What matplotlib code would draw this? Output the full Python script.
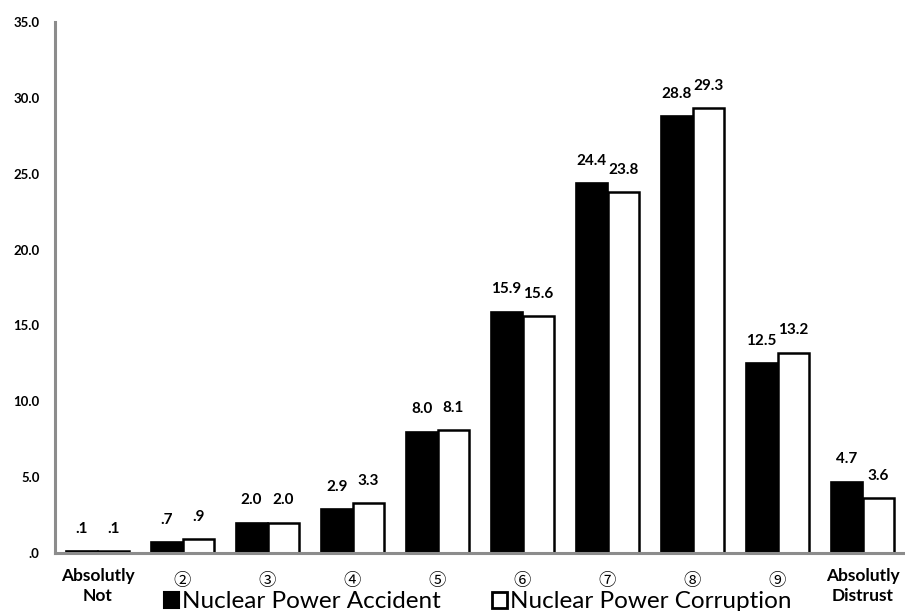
import matplotlib
matplotlib.use("Agg")
import matplotlib.pyplot as plt
import matplotlib.transforms as mtransforms
from matplotlib.patches import Rectangle
import numpy as np

categories = ["Absolutly\nNot", "②", "③", "④", "⑤", "⑥", "⑦", "⑧", "⑨", "Absolutly\nDistrust"]
accident = [0.1, 0.7, 2.0, 2.9, 8.0, 15.9, 24.4, 28.8, 12.5, 4.7]
corruption = [0.1, 0.9, 2.0, 3.3, 8.1, 15.6, 23.8, 29.3, 13.2, 3.6]
series_names = ["Nuclear Power Accident", "Nuclear Power Corruption"]
y_ticks = [0, 5, 10, 15, 20, 25, 30, 35]


def fmt(v):
    # Excel-style ".0" format: drop the leading zero
    s = f"{v:.1f}"
    return s[1:] if s.startswith("0") else s


plt.rcParams["font.family"] = ["Lato", "DejaVu Sans"]

fig = plt.figure(figsize=(9.05, 6.11), dpi=100)
ax = fig.add_axes([0.0608, 0.095, 0.9392, 0.869])

x = np.arange(len(categories))
w = 0.375
ax.bar(x - w / 2, accident, w, color="black", edgecolor="black", linewidth=1.2)
ax.bar(x + w / 2, corruption, w, color="white", edgecolor="black", linewidth=1.8)

# value labels above each bar
for xi, v in zip(x - w / 2, accident):
    ax.annotate(fmt(v), (xi, v), xytext=(0, 11), textcoords="offset points",
                ha="center", va="bottom", fontsize=11, fontweight="bold")
for xi, v in zip(x + w / 2, corruption):
    ax.annotate(fmt(v), (xi, v), xytext=(0, 11), textcoords="offset points",
                ha="center", va="bottom", fontsize=11, fontweight="bold")

ax.set_xlim(-0.5, len(categories) - 0.5)
ax.set_ylim(0, 35)
ax.set_yticks(y_ticks)
ax.set_yticklabels([fmt(t) for t in y_ticks], fontsize=9.5, fontweight="bold")
ax.set_xticks(x)
ax.set_xticklabels(categories)
ax.tick_params(axis="x", length=0, pad=24)
ax.tick_params(axis="y", length=0, pad=11)

# circled numbers sit a little higher than the two-line end labels
lift = mtransforms.ScaledTranslation(0, 4 / 72, fig.dpi_scale_trans)
for lab, txt in zip(ax.get_xticklabels(), categories):
    lab.set_va("center")
    if txt.startswith("Absolutly"):
        lab.set_fontsize(12.5)
        lab.set_fontweight("bold")
        lab.set_linespacing(1.3)
    else:
        lab.set_fontsize(12.5)
        lab.set_fontfamily(["Noto Sans CJK JP", "DejaVu Sans"])
        lab.set_transform(lab.get_transform() + lift)

for side in ["top", "right"]:
    ax.spines[side].set_visible(False)
for side in ["left", "bottom"]:
    ax.spines[side].set_color("#8c8c8c")
    ax.spines[side].set_linewidth(2.2)

handles = [
    Rectangle((0, 0), 1, 1, facecolor="black", edgecolor="black", linewidth=1.5),
    Rectangle((0, 0), 1, 1, facecolor="white", edgecolor="black", linewidth=2.0),
]
fig.legend(handles, series_names, loc="center", bbox_to_anchor=(478 / 905, 1 - 602 / 611),
           ncol=2, frameon=False, fontsize=17.5, handlelength=0.62, handleheight=0.62,
           handletextpad=0.12, columnspacing=2.1, borderpad=0)

fig.savefig("out.png", dpi=100)
